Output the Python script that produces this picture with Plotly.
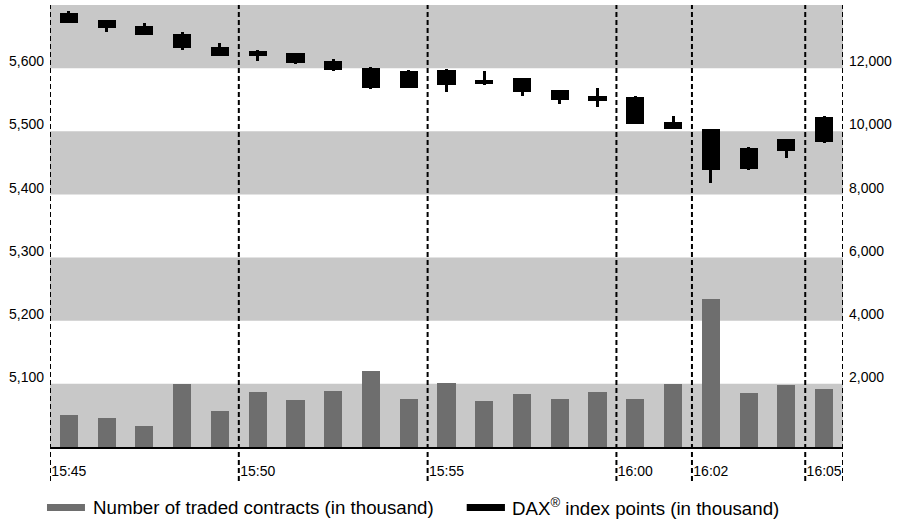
import plotly.graph_objects as go

# ---- data ----
times = ["15:45", "15:46", "15:47", "15:48", "15:49", "15:50", "15:51",
         "15:52", "15:53", "15:54", "15:55", "15:56", "15:57", "15:58",
         "15:59", "16:00", "16:01", "16:02", "16:03", "16:04", "16:05"]
tick_times = ["15:45", "15:50", "15:55", "16:00", "16:02", "16:05"]

dax_open = [5687, 5676, 5666, 5654, 5634, 5627, 5624, 5611, 5600, 5595, 5597,
            5582, 5584, 5565, 5556, 5554, 5514, 5503, 5440, 5469, 5483]
dax_close = [5672, 5664, 5653, 5632, 5620, 5620, 5608, 5597, 5568, 5568, 5573,
             5575, 5562, 5549, 5548, 5511, 5503, 5439, 5473, 5487, 5522]
dax_high = [5690, 5676, 5672, 5657, 5640, 5629, 5624, 5615, 5602, 5597, 5598,
            5595, 5584, 5565, 5568, 5556, 5524, 5503, 5475, 5487, 5525]
dax_low = [5672, 5658, 5653, 5629, 5620, 5612, 5607, 5595, 5567, 5568, 5563,
           5574, 5556, 5544, 5539, 5511, 5503, 5418, 5439, 5457, 5482]

contracts = [1010, 920, 660, 1990, 1140, 1740, 1490, 1770, 2400, 1520, 2020,
             1450, 1670, 1520, 1740, 1520, 1990, 4680, 1710, 1960, 1830]

left_ticks = [5100, 5200, 5300, 5400, 5500, 5600]
right_ticks = [2000, 4000, 6000, 8000, 10000, 12000]
band_ranges = [(5000, 5100), (5200, 5300), (5400, 5500), (5600, 5700)]

legend_labels = ["Number of traded contracts (in thousand)",
                 "DAX<sup>®</sup> index points (in thousand)"]

# ---- styles ----
BAND = "#c8c8c8"
BAR = "#6e6e6e"
FONT = "Liberation Sans, Arial, sans-serif"

fig = go.Figure()

# volume bars (right axis)
fig.add_trace(go.Bar(x=times, y=contracts, yaxis="y2", width=0.48,
                     marker=dict(color=BAR, line=dict(width=0)),
                     hoverinfo="skip"))

# candle wicks
fig.add_trace(go.Bar(x=times, y=[h - l for h, l in zip(dax_high, dax_low)],
                     base=dax_low, width=0.08,
                     marker=dict(color="black", line=dict(width=0)),
                     hoverinfo="skip"))
# candle bodies
fig.add_trace(go.Bar(x=times,
                     y=[max(abs(c - o), 1.5) for o, c in zip(dax_open, dax_close)],
                     base=[min(o, c) for o, c in zip(dax_open, dax_close)],
                     width=0.48,
                     marker=dict(color="black", line=dict(width=0)),
                     hoverinfo="skip"))

shapes = []
for lo, hi in band_ranges:
    shapes.append(dict(type="rect", xref="paper", yref="y", x0=0, x1=1,
                       y0=lo, y1=hi, fillcolor=BAND, line=dict(width=0),
                       layer="below"))

n = len(times)
for t in tick_times + [None]:
    xpos = (times.index(t) if t is not None else n) - 0.5
    shapes.append(dict(type="line", xref="x", yref="paper", x0=xpos, x1=xpos,
                       y0=-0.077, y1=1,
                       line=dict(color="black", width=2, dash="5px,3px"),
                       layer="above"))

# legend swatches
shapes.append(dict(type="rect", xref="paper", yref="paper",
                   x0=-0.0038, x1=0.0441, y0=-0.1448, y1=-0.129,
                   fillcolor=BAR, line=dict(width=0)))
shapes.append(dict(type="rect", xref="paper", yref="paper",
                   x0=0.5255, x1=0.5737, y0=-0.1448, y1=-0.129,
                   fillcolor="black", line=dict(width=0)))

annotations = [
    dict(xref="paper", yref="paper", x=0.0513, y=-0.1365, xanchor="left",
         yanchor="middle", text=legend_labels[0], showarrow=False,
         font=dict(family=FONT, size=18.7, color="black")),
    dict(xref="paper", yref="paper", x=0.5801, y=-0.1365, xanchor="left",
         yanchor="middle", text=legend_labels[1], showarrow=False,
         font=dict(family=FONT, size=18.7, color="black")),
]

fig.update_layout(
    width=902, height=523,
    margin=dict(l=50, r=59, t=5, b=76),
    paper_bgcolor="white", plot_bgcolor="white",
    showlegend=False, barmode="overlay", bargap=0,
    font=dict(family=FONT, size=14, color="black"),
    xaxis=dict(type="category", categoryorder="array", categoryarray=times,
               range=[-0.5, n - 0.5], tickvals=tick_times, ticktext=tick_times,
               showgrid=False, zeroline=False, showline=True,
               linecolor="black", linewidth=2, ticks="",
               ticklabelstandoff=10),
    yaxis=dict(range=[5000, 5700], tickvals=left_ticks, tickformat=",",
               showgrid=False, zeroline=False, showline=False, ticks="",
               ticklabelposition="outside top", ticklabelstandoff=5,
               ticklabelshift=3),
    yaxis2=dict(range=[0, 14000], tickvals=right_ticks, tickformat=",",
                overlaying="y", side="right",
                showgrid=False, zeroline=False, showline=False, ticks="",
                ticklabelposition="outside top", ticklabelstandoff=5,
                ticklabelshift=3),
    shapes=shapes, annotations=annotations,
)

fig.write_html("out.html", config={"displayModeBar": False},
               post_script="document.body.style.margin='0';")
